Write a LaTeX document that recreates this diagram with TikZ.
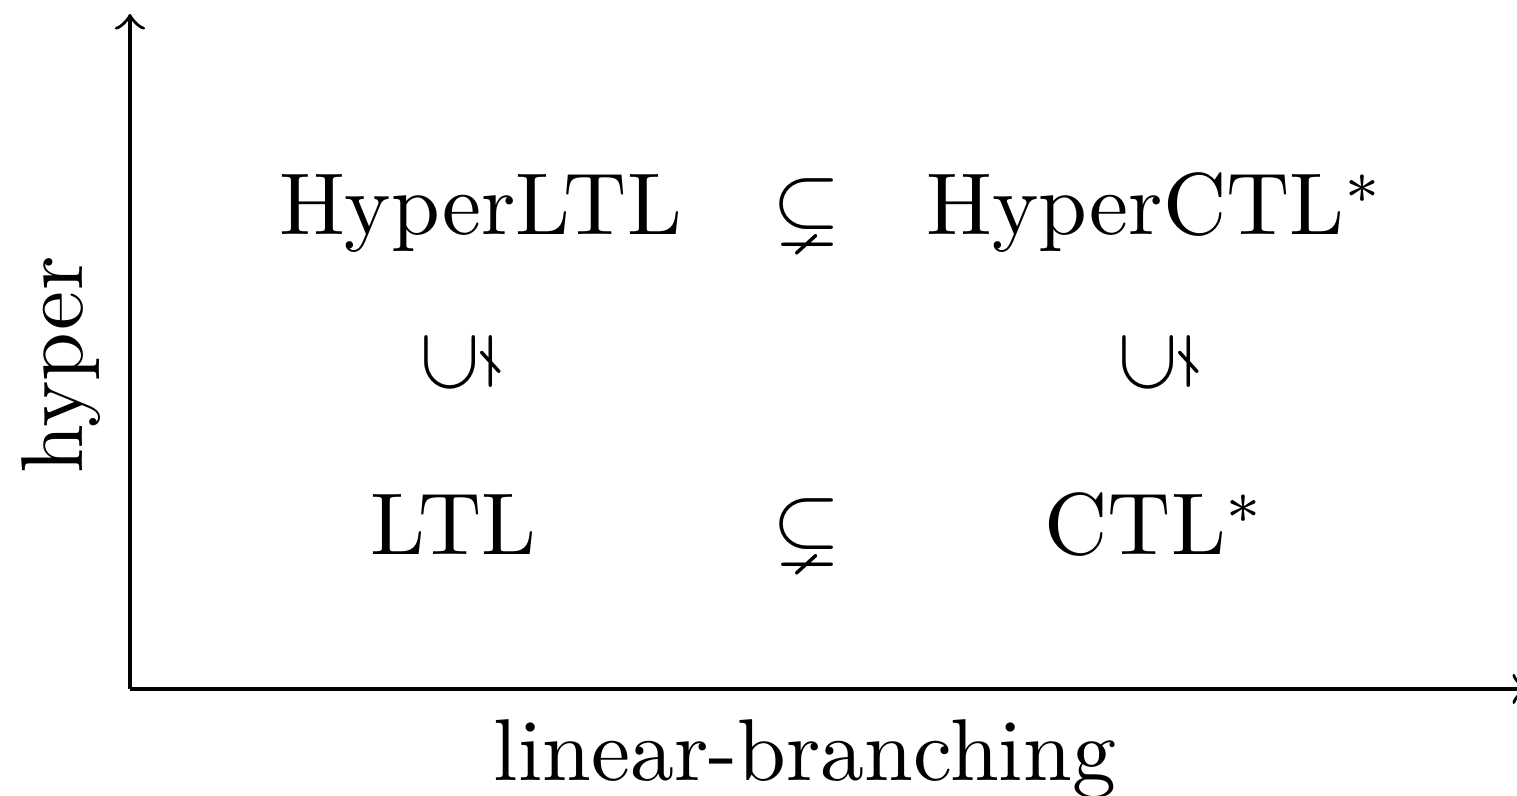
\documentclass[tikz,border=0pt]{standalone}
\usepackage{amssymb}
\begin{document}
\begin{tikzpicture}[x=1pt,y=1pt,
  txt/.style={inner sep=0pt, scale=1.023, transform shape},
  logic/.style={txt, anchor=base},
  incl/.style={txt, anchor=base},
  vincl/.style={txt, rotate=90},
  axislabel/.style={txt, anchor=base}]
  \useasboundingbox (0,0) rectangle (176.81,92.77);

  % axes
  \coordinate (O) at (15.15,12.47);
  \coordinate (ytip) at (15.15,91.14);
  \coordinate (xtip) at (178.1,12.47);
  \draw[->] (O) -- (ytip);
  \draw[->] (O) -- (xtip);

  % axis labels
  \node[axislabel] (xlab) at (93.8,1.75) {linear-branching};
  \node[axislabel, rotate=90] (ylab) at (9.56,50.2) {hyper};

  % logics
  \node[logic] (hltl) at (56.0,65.38) {HyperLTL};
  \node[incl]  (s1)   at (94.06,65.38) {$\subsetneq$};
  \node[logic] (hctl) at (134.7,65.38) {HyperCTL$^*$};
  \node[logic] (ltl)  at (52.9,28.09) {LTL};
  \node[incl]  (s2)   at (94.06,28.09) {$\subsetneq$};
  \node[logic] (ctl)  at (134.65,28.09) {CTL$^*$};

  % vertical inclusions
  \node[vincl] (v1) at (53.4,50.5) {$\subsetneq$};
  \node[vincl] (v2) at (134.85,50.5) {$\subsetneq$};
\end{tikzpicture}
\end{document}
